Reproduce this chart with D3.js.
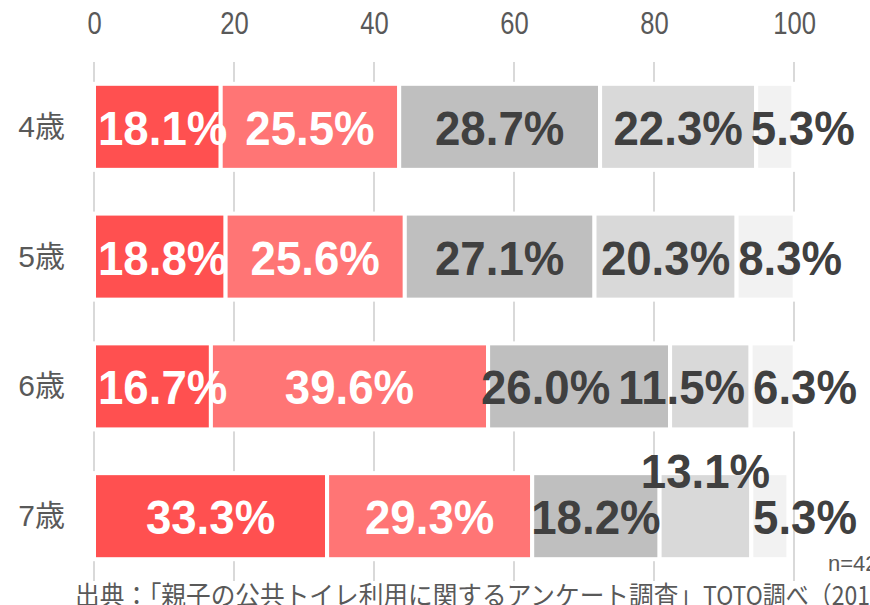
<!DOCTYPE html>
<html>
<head>
<meta charset="utf-8">
<script src="https://cdn.jsdelivr.net/npm/d3@7"></script>
<style>
  html, body { margin: 0; padding: 0; background: #fff; overflow: hidden; }
  svg { display: block; }
</style>
</head>
<body>
<svg id="chart" width="870" height="605"></svg>
<script>
// ---- data ----
const categories = ["4歳", "5歳", "6歳", "7歳"];
const seriesNames = ["s1", "s2", "s3", "s4", "s5"];
const series1 = [18.1, 18.8, 16.7, 33.3];
const series2 = [25.5, 25.6, 39.6, 29.3];
const series3 = [28.7, 27.1, 26.0, 18.2];
const series4 = [22.3, 20.3, 11.5, 13.1];
const series5 = [5.3, 8.3, 6.3, 5.3];
const tickValues = [0, 20, 40, 60, 80, 100];
const sampleNote = "n=420";
const sourceHead = "出典：「親子の公共トイレ利用に関するアンケート調査」";
const sourceTail = "TOTO調べ（2016年）";

// ---- styles ----
const fillColors = ["#ff5050", "#ff7575", "#bfbfbf", "#d9d9d9", "#f2f2f2"];
const labelColors = ["#ffffff", "#ffffff", "#404040", "#404040", "#404040"];
const latin = "'Liberation Sans', Arial, 'Noto Sans CJK JP', sans-serif";
const cjk = "'Liberation Sans', 'Noto Sans CJK JP', sans-serif";
const jp = "'Noto Sans CJK JP', sans-serif";

const svg = d3.select("#chart");
const allSeries = [series1, series2, series3, series4, series5];

const x = d3.scaleLinear().domain([0, 100]).range([94, 794]);
const y = d3.scaleBand().domain(categories).range([62, 581])
  .paddingInner(0.337).paddingOuter(0.168);

// stacked data
const rows = categories.map((c, i) => {
  let acc = 0;
  return allSeries.map((s, k) => {
    const v = s[i];
    const seg = { cat: c, k, v, x0: acc, x1: acc + v };
    acc += v;
    return seg;
  });
});

// gridlines
svg.append("g").selectAll("line").data(tickValues).join("line")
  .attr("x1", d => x(d)).attr("x2", d => x(d))
  .attr("y1", 62).attr("y2", 581)
  .attr("stroke", "#d9d9d9").attr("stroke-width", 2);

// top axis labels
const axis = d3.axisTop(x).tickValues(tickValues).tickSize(0).tickPadding(0);
const axG = svg.append("g").attr("transform", "translate(0,34)").call(axis);
axG.select(".domain").remove();
axG.selectAll("text")
  .attr("font-family", latin).attr("font-size", 32).attr("fill", "#595959")
  .attr("dy", 0).attr("y", 0)
  .each(function() {
    const w = this.getComputedTextLength();
    d3.select(this).attr("textLength", w * 0.8).attr("lengthAdjust", "spacingAndGlyphs");
  });

// category labels
svg.append("g").selectAll("text").data(categories).join("text")
  .attr("x", 65).attr("y", d => y(d) + y.bandwidth() / 2 + 10)
  .attr("text-anchor", "end")
  .attr("font-family", cjk).attr("font-size", 30).attr("fill", "#595959")
  .text(d => d);

// bars
const barG = svg.append("g");
rows.forEach(row => {
  barG.selectAll(null).data(row).join("rect")
    .attr("x", d => x(d.x0)).attr("width", d => x(d.x1) - x(d.x0))
    .attr("y", d => y(d.cat)).attr("height", y.bandwidth())
    .attr("fill", d => fillColors[d.k])
    .attr("stroke", "#ffffff").attr("stroke-width", 4);
});

// data labels with simple overlap layout
const labG = svg.append("g");
const gap = 8, minX = 98, maxX = 857, squeeze = 0.95;
rows.forEach(row => {
  const cy = y(row[0].cat) + y.bandwidth() / 2;
  const labs = row.map(d => {
    const t = labG.append("text")
      .attr("font-family", latin).attr("font-size", 48).attr("font-weight", "bold")
      .attr("fill", labelColors[d.k]).attr("text-anchor", "middle")
      .text(d.v.toFixed(1) + "%");
    const w = t.node().getComputedTextLength() * squeeze;
    t.attr("textLength", w).attr("lengthAdjust", "spacingAndGlyphs");
    const a = x((d.x0 + d.x1) / 2);
    return { d, t, w, anchor: a, left: a - w / 2, right: a + w / 2, lifted: false };
  });
  for (let i = 1; i < labs.length - 1; i++) {
    const ovL = labs[i - 1].right - labs[i].left;
    const ovR = labs[i].right - labs[i + 1].left;
    if (ovL > 8 && ovR > 8) labs[i].lifted = true;
  }
  const liftX = new Map();
  labs.forEach(l => { if (l.lifted) liftX.set(l, l.anchor); });
  labs.forEach((l, i) => {
    const lo = i === 0 ? minX : labs[i - 1].right + gap;
    if (l.left < lo) { l.left = lo; l.right = lo + l.w; }
  });
  const flow = labs.filter(l => !l.lifted);
  for (let i = flow.length - 1; i >= 0; i--) {
    const hi = i === flow.length - 1 ? maxX : flow[i + 1].left - gap;
    if (flow[i].right > hi) { flow[i].right = hi; flow[i].left = hi - flow[i].w; }
  }
  labs.forEach(l => {
    const cx = l.lifted ? liftX.get(l) : (l.left + l.right) / 2;
    l.t.attr("x", cx).attr("y", l.lifted ? y(l.d.cat) + 15 : cy + 18);
  });
});

// notes
svg.append("text").attr("x", 828).attr("y", 571)
  .attr("font-family", latin).attr("font-size", 22).attr("fill", "#595959")
  .text(sampleNote);

function measure(str) {
  const t = svg.append("text").attr("font-family", jp).attr("font-size", 26).text(str);
  const w = t.node().getComputedTextLength();
  t.remove();
  return w;
}
const headW = measure(sourceHead);
const tailW = measure(sourceTail);
const tailVisW = measure(sourceTail.slice(0, 10));
const foot = svg.append("text").attr("y", 605)
  .attr("font-family", jp).attr("font-size", 26).attr("fill", "#595959");
foot.append("tspan").attr("x", 75)
  .attr("textLength", 628).attr("lengthAdjust", "spacingAndGlyphs")
  .text(sourceHead);
foot.append("tspan").attr("x", 703)
  .attr("textLength", tailW * (167 / tailVisW)).attr("lengthAdjust", "spacingAndGlyphs")
  .text(sourceTail);
</script>
</body>
</html>
